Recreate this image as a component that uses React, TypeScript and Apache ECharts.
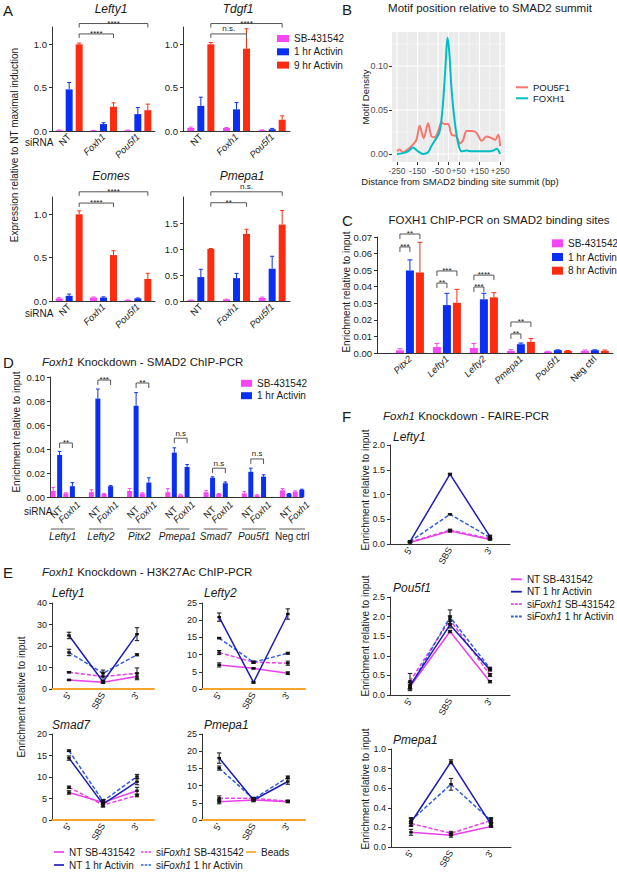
import React, { useEffect, useRef } from 'react';
import * as echarts from 'echarts';

const FONT = '"Liberation Sans", Arial, Helvetica, sans-serif';
const INK = '#1a1a1a';
const AXIS = '#333333';
const C_SB = '#f646f6';
const C_1H = '#0b2ff2';
const C_LATE = '#fb2c12';
const L_SB = '#ea3fea';
const L_NT_1H = '#1c1cb8';
const L_KD_1H = '#2f5fe0';
const L_BEADS = '#f5a52c';
const B_POU = '#F8766D';
const B_FOX = '#00BFC4';
const PLAIN = ['NT', 'Neg ctrl'];
const ICON_SOLID = 'path://M0,0H12V2H0Z';
const ICON_DASH = 'path://M0,0H3V2H0Z M4.5,0H7.5V2H4.5Z M9,0H12V2H9Z';

// ---------- Panel A ----------
const aGroups = ['NT', 'Foxh1', 'Pou5f1'];
const lefty1SB = [0.008, 0.005, 0.008];
const lefty1SBErr = [0.003, 0.002, 0.003];
const lefty1H1 = [0.48, 0.08, 0.195];
const lefty1H1Err = [0.08, 0.015, 0.075];
const lefty1H9 = [1.0, 0.28, 0.24];
const lefty1H9Err = [0.015, 0.045, 0.07];
const lefty1Sig = [[0, 2, 2, 2, 1.24], [0, 2, 1, 2, 1.12]];
const lefty1SigText = ['****', '****'];
const tdgf1SB = [0.035, 0.035, 0.01];
const tdgf1SBErr = [0.01, 0.005, 0.003];
const tdgf1H1 = [0.29, 0.25, 0.02];
const tdgf1H1Err = [0.1, 0.08, 0.01];
const tdgf1H9 = [1.0, 0.95, 0.13];
const tdgf1H9Err = [0.02, 0.23, 0.045];
const tdgf1Sig = [[0, 2, 2, 2, 1.24], [0, 2, 1, 2, 1.12]];
const tdgf1SigText = ['****', 'n.s.'];
const eomesSB = [0.03, 0.04, 0.01];
const eomesSBErr = [0.008, 0.006, 0.003];
const eomesH1 = [0.06, 0.04, 0.03];
const eomesH1Err = [0.02, 0.008, 0.005];
const eomesH9 = [1.0, 0.53, 0.255];
const eomesH9Err = [0.04, 0.05, 0.065];
const eomesSig = [[0, 2, 2, 2, 1.26], [0, 2, 1, 2, 1.13]];
const eomesSigText = ['****', '****'];
const pmepa1SB = [0.015, 0.03, 0.06];
const pmepa1SBErr = [0.004, 0.006, 0.015];
const pmepa1H1 = [0.46, 0.44, 0.62];
const pmepa1H1Err = [0.15, 0.09, 0.24];
const pmepa1H9 = [1.0, 1.29, 1.47];
const pmepa1H9Err = [0.01, 0.09, 0.27];
const pmepa1Sig = [[0, 2, 2, 2, 2.1], [0, 2, 1, 2, 1.89]];
const pmepa1SigText = ['n.s.', '**'];

// ---------- Panel B ----------
const pouX = [-250, -237, -221, -188, -156, -140, -120, -99, -83, -67, -50, -34, -18, -2, 15, 39, 55, 71, 88, 112, 136, 161, 185, 209, 226, 242, 250];
const pouY = [0.003, 0.005, 0.002, 0.007, 0.016, 0.032, 0.018, 0.035, 0.02, 0.019, 0.026, 0.036, 0.034, 0.034, 0.022, 0.02, 0.012, 0.016, 0.026, 0.026, 0.024, 0.015, 0.02, 0.018, 0.016, 0.022, 0.009];
const foxX = [-250, -221, -196, -172, -148, -123, -99, -83, -67, -45, -34, -23, -13, -5, 3, 15, 31, 47, 63, 88, 112, 153, 185, 218, 234, 250];
const foxY = [0.0, 0.001, 0.003, 0.0075, 0.003, 0.0, 0.002, 0.009, 0.015, 0.024, 0.039, 0.069, 0.106, 0.132, 0.118, 0.073, 0.035, 0.012, 0.003, 0.004, 0.003, 0.003, 0.003, 0.004, 0.006, 0.0];
const bXMajor = [-250, -150, -50, 0, 50, 150, 250];
const bXMinor = [-200, -100, -25, 25, 100, 200];
const bYMajor = [0, 0.05, 0.1];
const bYMinor = [0.025, 0.075, 0.125];

// ---------- Panel C ----------
const cGenes = ['Pitx2', 'Lefty1', 'Lefty2', 'Pmepa1', 'Pou5f1', 'Neg ctrl'];
const cSB = [0.0016, 0.0036, 0.003, 0.0012, 0.0008, 0.0013];
const cSBErr = [0.001, 0.0021, 0.0027, 0.0008, 0.0002, 0.0005];
const cH1 = [0.0498, 0.0289, 0.0324, 0.0053, 0.0017, 0.0017];
const cH1Err = [0.0064, 0.0071, 0.0036, 0.0007, 0.0002, 0.0002];
const cH8 = [0.0486, 0.0303, 0.0336, 0.0067, 0.0012, 0.0012];
const cH8Err = [0.0182, 0.0081, 0.0028, 0.002, 0.0003, 0.0006];
const cSig = [[0, 0, 0, 2, 0.0718], [0, 0, 0, 1, 0.064], [1, 0, 1, 2, 0.0495], [1, 0, 1, 1, 0.0422], [2, 0, 2, 2, 0.047], [2, 0, 2, 1, 0.0398], [3, 0, 3, 2, 0.0187], [3, 0, 3, 1, 0.0115]];
const cSigText = ['**', '***', '***', '**', '****', '***', '**', '**'];

// ---------- Panel D ----------
const dGenes = ['Lefty1', 'Lefty2', 'Pitx2', 'Pmepa1', 'Smad7', 'Pou5f1', 'Neg ctrl'];
const dConds = ['NT', 'Foxh1'];
const dNtSB = [0.005, 0.004, 0.005, 0.004, 0.004, 0.003, 0.0055];
const dNtSBErr = [0.003, 0.002, 0.002, 0.003, 0.0015, 0.0015, 0.0015];
const dNt1h = [0.035, 0.082, 0.076, 0.037, 0.016, 0.021, 0.0025];
const dNt1hErr = [0.003, 0.008, 0.011, 0.004, 0.0008, 0.003, 0.0004];
const dKdSB = [0.003, 0.0025, 0.003, 0.0015, 0.0025, 0.0015, 0.0045];
const dKdSBErr = [0.0005, 0.0004, 0.0005, 0.0008, 0.0004, 0.0004, 0.0006];
const dKd1h = [0.009, 0.009, 0.012, 0.025, 0.0115, 0.017, 0.006];
const dKd1hErr = [0.003, 0.0005, 0.004, 0.002, 0.001, 0.0015, 0.0005];
const dSig = [[0, 1, 1, 1, 0.045], [3, 1, 4, 1, 0.0975], [6, 1, 7, 1, 0.095], [9, 1, 10, 1, 0.049], [12, 1, 13, 1, 0.024], [15, 1, 16, 1, 0.0317]];
const dSigText = ['**', '***', '**', 'n.s', 'n.s', 'n.s'];

// ---------- Panel E ----------
const eCats = ["5'", 'SBS', "3'"];
const eLefty1NtSB = [4.2, 3.1, 5.8];
const eLefty1NtSBErr = [0.3, 0.5, 1.5];
const eLefty1KdSB = [7.8, 5.8, 7.3];
const eLefty1KdSBErr = [0.3, 2.0, 2.5];
const eLefty1Nt1h = [24.9, 3.4, 25.5];
const eLefty1Nt1hErr = [1.5, 0.5, 3.0];
const eLefty1Kd1h = [17.0, 7.3, 15.9];
const eLefty1Kd1hErr = [1.5, 1.5, 0.5];
const eLefty2NtSB = [7.0, 6.0, 4.6];
const eLefty2NtSBErr = [0.6, 0.2, 0.4];
const eLefty2KdSB = [10.6, 7.8, 7.5];
const eLefty2KdSBErr = [0.6, 0.3, 0.6];
const eLefty2Nt1h = [20.9, 1.9, 21.8];
const eLefty2Nt1hErr = [1.2, 0.2, 1.5];
const eLefty2Kd1h = [14.8, 7.8, 10.4];
const eLefty2Kd1hErr = [0.2, 0.3, 0.3];
const eSmad7NtSB = [6.4, 4.1, 6.8];
const eSmad7NtSBErr = [0.4, 0.5, 0.8];
const eSmad7KdSB = [7.6, 3.5, 5.7];
const eSmad7KdSBErr = [0.3, 0.5, 0.3];
const eSmad7Nt1h = [14.4, 3.7, 8.9];
const eSmad7Nt1hErr = [0.5, 0.6, 0.7];
const eSmad7Kd1h = [16.1, 4.4, 10.1];
const eSmad7Kd1hErr = [0.2, 0.4, 0.5];
const ePmepa1NtSB = [5.3, 5.8, 5.3];
const ePmepa1NtSBErr = [0.6, 0.3, 0.3];
const ePmepa1KdSB = [6.3, 6.3, 5.5];
const ePmepa1KdSBErr = [0.7, 0.3, 0.3];
const ePmepa1Nt1h = [18.0, 5.8, 11.2];
const ePmepa1Nt1hErr = [1.5, 0.5, 0.8];
const ePmepa1Kd1h = [15.1, 6.1, 12.4];
const ePmepa1Kd1hErr = [0.6, 0.4, 0.4];
const eBeads = [0, 0, 0];

// ---------- Panel F ----------
const fLefty1NtSB = [0.03, 0.26, 0.09];
const fLefty1NtSBErr = [0.01, 0.02, 0.01];
const fLefty1KdSB = [0.04, 0.28, 0.11];
const fLefty1KdSBErr = [0.01, 0.02, 0.01];
const fLefty1Nt1h = [0.05, 1.41, 0.15];
const fLefty1Nt1hErr = [0.02, 0.02, 0.03];
const fLefty1Kd1h = [0.05, 0.6, 0.13];
const fLefty1Kd1hErr = [0.01, 0.01, 0.03];
const fPou5f1NtSB = [0.21, 1.62, 0.34];
const fPou5f1NtSBErr = [0.1, 0.03, 0.03];
const fPou5f1KdSB = [0.35, 1.92, 0.51];
const fPou5f1KdSBErr = [0.2, 0.1, 0.04];
const fPou5f1Nt1h = [0.24, 1.79, 0.64];
const fPou5f1Nt1hErr = [0.08, 0.08, 0.03];
const fPou5f1Kd1h = [0.21, 1.99, 0.68];
const fPou5f1Kd1hErr = [0.05, 0.18, 0.03];
const fPmepa1NtSB = [0.15, 0.12, 0.21];
const fPmepa1NtSBErr = [0.03, 0.02, 0.01];
const fPmepa1KdSB = [0.24, 0.14, 0.27];
const fPmepa1KdSBErr = [0.02, 0.02, 0.02];
const fPmepa1Nt1h = [0.25, 0.87, 0.23];
const fPmepa1Nt1hErr = [0.04, 0.02, 0.02];
const fPmepa1Kd1h = [0.27, 0.64, 0.27];
const fPmepa1Kd1hErr = [0.03, 0.06, 0.03];

const N_NT_SB = 'NT SB-431542';
const N_NT_1H = 'NT 1 hr Activin';
const N_KD_SB = 'siFoxh1 SB-431542';
const N_KD_1H = 'siFoxh1 1 hr Activin';

function ticksTo(max: number, step: number) {
  const out: number[] = [];
  for (let i = 0; i <= Math.round(max / step); i++) out.push(+(i * step).toFixed(4));
  return out;
}

function buildOption(): any {
  const grid: any[] = [];
  const xAxis: any[] = [];
  const yAxis: any[] = [];
  const series: any[] = [];
  const legend: any[] = [];
  const graphic: any[] = [];

  const addGrid = (rect: any, x: any, y: any, g: any = {}) => {
    grid.push({ ...rect, ...g });
    const i = grid.length - 1;
    xAxis.push({ gridIndex: i, ...x });
    yAxis.push({ gridIndex: i, ...y });
    return i;
  };

  const italicName = (n: string) => (PLAIN.includes(n) ? n : `{i|${n}}`);

  const yValue = (max: number, ticks: number[], fmt: (v: number) => string, size = 9.5) => ({
    type: 'value', min: 0, max,
    axisLine: { show: true, onZero: false, lineStyle: { color: AXIS, width: 1 } },
    axisTick: { show: true, length: 3, customValues: ticks, lineStyle: { color: AXIS } },
    axisLabel: { customValues: ticks, formatter: fmt, fontSize: size, color: INK, fontFamily: FONT, margin: 5, showMinLabel: true, showMaxLabel: true },
    splitLine: { show: false },
  });

  const xBars = (min: number, max: number, pos: number[], names: string[], extra: any = {}, size = 9.5) => ({
    type: 'value', min, max,
    axisLine: { show: true, onZero: false, lineStyle: { color: AXIS } },
    axisTick: { show: false },
    splitLine: { show: false },
    axisLabel: {
      customValues: pos, rotate: 45, fontSize: size, color: INK, fontFamily: FONT, margin: 4,
      showMinLabel: true, showMaxLabel: true, hideOverlap: false,
      formatter: (v: number) => {
        const k = pos.findIndex((p) => Math.abs(p - v) < 1e-6);
        return k >= 0 ? italicName(names[k]) : '';
      },
      rich: { i: { fontStyle: 'italic', fontSize: size, color: INK, fontFamily: FONT } },
      ...extra,
    },
  });

  const errUp = (gi: number, pos: number[], vals: number[], errs: number[], off: number, color: string, cap: number) => {
    series.push({
      type: 'custom', xAxisIndex: gi, yAxisIndex: gi, silent: true, z: 3, clip: false,
      data: pos.map((x, i) => [x, vals[i], errs[i]]),
      renderItem: (_p: any, api: any) => {
        const b = api.coord([api.value(0), api.value(1)]);
        const t = api.coord([api.value(0), api.value(1) + api.value(2)]);
        const x = b[0] + off;
        const st = { stroke: color, lineWidth: 1 };
        return {
          type: 'group', children: [
            { type: 'line', shape: { x1: x, y1: b[1], x2: x, y2: t[1] }, style: st },
            { type: 'line', shape: { x1: x - cap, y1: t[1], x2: x + cap, y2: t[1] }, style: st },
          ],
        };
      },
    });
  };

  const brackets = (gi: number, rows: number[][], texts: string[], off: (b: number) => number, drop: number) => {
    series.push({
      type: 'custom', xAxisIndex: gi, yAxisIndex: gi, silent: true, z: 4, clip: false,
      encode: { x: 0, y: 4 },
      data: rows,
      renderItem: (p: any, api: any) => {
        const a = api.coord([api.value(0), api.value(4)]);
        const c = api.coord([api.value(2), api.value(4)]);
        const x1 = a[0] + off(api.value(1));
        const x2 = c[0] + off(api.value(3));
        const y = a[1];
        const t = texts[p.dataIndex];
        const star = t.indexOf('*') >= 0;
        return {
          type: 'group', children: [
            { type: 'polyline', shape: { points: [[x1, y + drop], [x1, y], [x2, y], [x2, y + drop]] }, style: { stroke: '#555', lineWidth: 1, fill: 'none' } },
            {
              type: 'text', x: (x1 + x2) / 2, y: star ? y - 0.5 : y - 1,
              style: { text: t, fontSize: 8, fontFamily: FONT, fill: INK, align: 'center', verticalAlign: star ? 'middle' : 'bottom' },
            },
          ],
        };
      },
    });
  };

  const addBars = (gi: number, pos: number[], sets: any[], w: number, gap: number, cap: number) => {
    const step = w * (1 + gap);
    const n = sets.length;
    sets.forEach((s, k) => {
      series.push({
        type: 'bar', name: s.name, xAxisIndex: gi, yAxisIndex: gi, silent: true,
        data: pos.map((x, i) => [x, s.vals[i]]),
        barWidth: w, barGap: `${Math.round(gap * 100)}%`,
        itemStyle: { color: s.color },
      });
      errUp(gi, pos, s.vals, s.errs, (k - (n - 1) / 2) * step, s.color, cap);
    });
    return (b: number) => (b - (n - 1) / 2) * step;
  };

  // ---------------- Panel A ----------------
  const aPos = aGroups.map((_, i) => i);
  const aPanel = (rect: any, yMax: number, ticks: number[], sb: number[], sbE: number[], h1: number[], h1E: number[], h9: number[], h9E: number[], sig: number[][], sigText: string[]) => {
    const gi = addGrid(rect, xBars(-0.5, 2.5, aPos, aGroups), yValue(yMax, ticks, (v) => v.toFixed(1)));
    const off = addBars(gi, aPos, [
      { name: 'SB-431542', color: C_SB, vals: sb, errs: sbE },
      { name: '1 hr Activin', color: C_1H, vals: h1, errs: h1E },
      { name: '9 hr Activin', color: C_LATE, vals: h9, errs: h9E },
    ], 7, 0.43, 2);
    brackets(gi, sig, sigText, off, 4);
  };
  aPanel({ left: 52, top: 27, width: 103, height: 104 }, 1.2, [0, 0.5, 1], lefty1SB, lefty1SBErr, lefty1H1, lefty1H1Err, lefty1H9, lefty1H9Err, lefty1Sig, lefty1SigText);
  aPanel({ left: 183, top: 27, width: 107, height: 104 }, 1.2, [0, 0.5, 1], tdgf1SB, tdgf1SBErr, tdgf1H1, tdgf1H1Err, tdgf1H9, tdgf1H9Err, tdgf1Sig, tdgf1SigText);
  aPanel({ left: 52, top: 197, width: 103, height: 104 }, 1.2, [0, 0.5, 1], eomesSB, eomesSBErr, eomesH1, eomesH1Err, eomesH9, eomesH9Err, eomesSig, eomesSigText);
  aPanel({ left: 183, top: 197, width: 107, height: 104 }, 2.0, [0, 0.5, 1, 1.5], pmepa1SB, pmepa1SBErr, pmepa1H1, pmepa1H1Err, pmepa1H9, pmepa1H9Err, pmepa1Sig, pmepa1SigText);

  legend.push({
    left: 277, top: 32.5, orient: 'vertical', icon: 'rect', itemWidth: 12, itemHeight: 7, itemGap: 1.3, padding: 0, selectedMode: false,
    data: ['SB-431542', '1 hr Activin', '9 hr Activin'],
    textStyle: { fontSize: 10, lineHeight: 12, color: INK, fontFamily: FONT },
  });

  // ---------------- Panel B ----------------
  {
    const gi = addGrid(
      { left: 392, top: 32, width: 113, height: 130 },
      {
        type: 'value', min: -274, max: 274,
        axisLine: { show: false, onZero: false },
        axisTick: { show: true, length: 3, customValues: bXMajor, lineStyle: { color: '#333' } },
        axisLabel: { customValues: bXMajor, formatter: (v: number) => (v > 0 ? `+${v}` : `${v}`), fontSize: 8.5, color: '#4D4D4D', fontFamily: FONT, margin: 4, showMinLabel: true, showMaxLabel: true },
        splitLine: { show: false },
      },
      {
        type: 'value', min: -0.0091, max: 0.1386,
        axisLine: { show: false, onZero: false },
        axisTick: { show: true, length: 3, customValues: bYMajor, lineStyle: { color: '#333' } },
        axisLabel: { customValues: bYMajor, formatter: (v: number) => v.toFixed(2), fontSize: 9, color: '#4D4D4D', fontFamily: FONT, margin: 4, showMinLabel: true, showMaxLabel: true },
        splitLine: { show: false },
      },
      { show: true, backgroundColor: '#EBEBEB', borderWidth: 0 },
    );
    const vLines = [...bXMajor.map((x) => [x, 0, 1.1]), ...bXMinor.map((x) => [x, 0, 0.5])];
    const hLines = [...bYMajor.map((y) => [0, y, 1.1]), ...bYMinor.map((y) => [0, y, 0.5])];
    series.push({
      type: 'custom', xAxisIndex: gi, yAxisIndex: gi, silent: true, z: 1,
      data: vLines,
      renderItem: (p: any, api: any) => {
        const c = api.coord([api.value(0), 0]);
        const cs = p.coordSys;
        return { type: 'line', shape: { x1: c[0], y1: cs.y, x2: c[0], y2: cs.y + cs.height }, style: { stroke: '#ffffff', lineWidth: api.value(2) } };
      },
    });
    series.push({
      type: 'custom', xAxisIndex: gi, yAxisIndex: gi, silent: true, z: 1,
      data: hLines,
      renderItem: (p: any, api: any) => {
        const c = api.coord([0, api.value(1)]);
        const cs = p.coordSys;
        return { type: 'line', shape: { x1: cs.x, y1: c[1], x2: cs.x + cs.width, y2: c[1] }, style: { stroke: '#ffffff', lineWidth: api.value(2) } };
      },
    });
    series.push({
      type: 'line', name: 'POU5F1', xAxisIndex: gi, yAxisIndex: gi, silent: true, z: 3, smooth: 0.3, symbol: 'none',
      data: pouX.map((x, i) => [x, pouY[i]]),
      lineStyle: { color: B_POU, width: 2 }, itemStyle: { color: B_POU },
    });
    series.push({
      type: 'line', name: 'FOXH1', xAxisIndex: gi, yAxisIndex: gi, silent: true, z: 3, smooth: 0.3, symbol: 'none',
      data: foxX.map((x, i) => [x, foxY[i]]),
      lineStyle: { color: B_FOX, width: 2 }, itemStyle: { color: B_FOX },
    });
    legend.push({
      left: 516, top: 81.8, orient: 'vertical', itemWidth: 12, itemHeight: 2.2, itemGap: 0, padding: 0, selectedMode: false,
      itemStyle: { borderWidth: 0 },
      data: [{ name: 'POU5F1', icon: ICON_SOLID }, { name: 'FOXH1', icon: ICON_SOLID }],
      textStyle: { fontSize: 9.5, lineHeight: 11, color: INK, fontFamily: FONT },
    });
  }

  // ---------------- Panel C ----------------
  {
    const pos = cGenes.map((_, i) => i);
    const gi = addGrid({ left: 377, top: 237, width: 236, height: 116 }, xBars(-0.89, 5.49, pos, cGenes), yValue(0.07, ticksTo(0.07, 0.01), (v) => v.toFixed(2)));
    const off = addBars(gi, pos, [
      { name: 'SB-431542', color: C_SB, vals: cSB, errs: cSBErr },
      { name: '1 hr Activin', color: C_1H, vals: cH1, errs: cH1Err },
      { name: '8 hr Activin', color: C_LATE, vals: cH8, errs: cH8Err },
    ], 8, 0.25, 2.5);
    brackets(gi, cSig, cSigText, off, 5);
    legend.push({
      left: 552, top: 237.3, orient: 'vertical', icon: 'rect', itemWidth: 11, itemHeight: 8, itemGap: 1.7, padding: 0, selectedMode: false,
      data: ['SB-431542', '1 hr Activin', '8 hr Activin'],
      textStyle: { fontSize: 10, lineHeight: 12, color: INK, fontFamily: FONT },
    });
  }

  // ---------------- Panel D ----------------
  {
    const pos: number[] = [];
    const names: string[] = [];
    dGenes.forEach((_, g) => dConds.forEach((c, k) => { pos.push(3 * g + k); names.push(c); }));
    const sbVals: number[] = [], sbErrs: number[] = [], h1Vals: number[] = [], h1Errs: number[] = [];
    dGenes.forEach((_, g) => {
      sbVals.push(dNtSB[g], dKdSB[g]);
      sbErrs.push(dNtSBErr[g], dKdSBErr[g]);
      h1Vals.push(dNt1h[g], dKd1h[g]);
      h1Errs.push(dNt1hErr[g], dKd1hErr[g]);
    });
    const gi = addGrid(
      { left: 50, top: 377, width: 253, height: 120 },
      xBars(-0.5, 19.35, pos, names, { show: false }),
      yValue(0.1, ticksTo(0.1, 0.02), (v) => v.toFixed(2)),
    );
    const off = addBars(gi, pos, [
      { name: 'SB-431542', color: C_SB, vals: sbVals, errs: sbErrs },
      { name: '1 hr Activin', color: C_1H, vals: h1Vals, errs: h1Errs },
    ], 5, 0.3, 1.8);
    brackets(gi, dSig, dSigText, off, 5);
    // siRNA condition labels (rotated), drawn at each bar-pair position
    series.push({
      type: 'custom', xAxisIndex: gi, yAxisIndex: gi, silent: true, z: 4, clip: false,
      data: pos.map((x) => [x, 0]),
      renderItem: (p: any, api: any) => {
        const c = api.coord([api.value(0), 0]);
        const name = names[p.dataIndex];
        return {
          type: 'text', x: c[0], y: c[1] + 15, rotation: Math.PI / 4,
          style: { text: name, fontSize: 9.5, fontFamily: FONT, fontStyle: PLAIN.includes(name) ? 'normal' : 'italic', fill: INK, align: 'center', verticalAlign: 'middle' },
        };
      },
    });
    // gene group labels with overline
    series.push({
      type: 'custom', xAxisIndex: gi, yAxisIndex: gi, silent: true, z: 4, clip: false,
      data: dGenes.map((_, g) => [3 * g + 0.5, 0]),
      renderItem: (p: any, api: any) => {
        const c = api.coord([api.value(0), 0]);
        const cs = p.coordSys;
        const yb = cs.y + cs.height;
        const name = dGenes[p.dataIndex];
        const half = PLAIN.includes(name) ? 13 : 12;
        return {
          type: 'group', children: [
            { type: 'line', shape: { x1: c[0] - half, y1: yb + 32, x2: c[0] + half, y2: yb + 32 }, style: { stroke: '#333', lineWidth: 0.8 } },
            { type: 'text', x: c[0], y: yb + 39, style: { text: name, fontSize: 10, fontFamily: FONT, fontStyle: PLAIN.includes(name) ? 'normal' : 'italic', fill: INK, align: 'center', verticalAlign: 'middle' } },
          ],
        };
      },
    });
    legend.push({
      left: 241, top: 377.3, orient: 'vertical', icon: 'rect', itemWidth: 11, itemHeight: 7, itemGap: 0.4, padding: 0, selectedMode: false,
      data: ['SB-431542', '1 hr Activin'],
      textStyle: { fontSize: 10, lineHeight: 12, color: INK, fontFamily: FONT },
    });
  }

  // ---------------- Line panels (E, F) ----------------
  const errBoth = (gi: number, vals: number[], errs: number[]) => {
    series.push({
      type: 'custom', xAxisIndex: gi, yAxisIndex: gi, silent: true, z: 5, clip: false,
      data: vals.map((v, i) => [i, v, errs[i]]),
      renderItem: (_p: any, api: any) => {
        const c = api.coord([api.value(0), api.value(1)]);
        const lo = api.coord([api.value(0), api.value(1) - api.value(2)]);
        const hi = api.coord([api.value(0), api.value(1) + api.value(2)]);
        const x = c[0];
        const st = { stroke: '#111', lineWidth: 1 };
        return {
          type: 'group', children: [
            { type: 'line', shape: { x1: x, y1: lo[1], x2: x, y2: hi[1] }, style: st },
            { type: 'line', shape: { x1: x - 2.2, y1: lo[1], x2: x + 2.2, y2: lo[1] }, style: st },
            { type: 'line', shape: { x1: x - 2.2, y1: hi[1], x2: x + 2.2, y2: hi[1] }, style: st },
            { type: 'rect', shape: { x: x - 1.8, y: c[1] - 1.2, width: 3.6, height: 2.4 }, style: { fill: '#111' } },
          ],
        };
      },
    });
  };

  const linePanel = (rect: any, yMax: number, step: number, fmt: (v: number) => string, lines: any[], beads: number[] | null) => {
    const ticks = ticksTo(yMax, step);
    const gi = addGrid(
      rect,
      {
        type: 'category', data: eCats, boundaryGap: true,
        axisLine: { show: true, onZero: false, lineStyle: { color: beads ? L_BEADS : AXIS, width: beads ? 2 : 1 } },
        axisTick: { show: false },
        splitLine: { show: false },
        axisLabel: { rotate: 60, fontSize: 9, color: INK, fontFamily: FONT, margin: 4, interval: 0 },
      },
      yValue(yMax, ticks, fmt, 9),
    );
    lines.forEach((l) => {
      series.push({
        type: 'line', name: l.name, xAxisIndex: gi, yAxisIndex: gi, silent: true, z: 2, symbol: 'none',
        data: l.vals,
        lineStyle: { color: l.color, width: 1.5, type: l.dash ? [4, 2] : 'solid' },
        itemStyle: { color: l.color },
      });
    });
    if (beads) {
      series.push({
        type: 'line', name: 'Beads', xAxisIndex: gi, yAxisIndex: gi, silent: true, z: 2, symbol: 'none',
        data: beads, lineStyle: { color: L_BEADS, width: 2 }, itemStyle: { color: L_BEADS },
      });
    }
    lines.forEach((l) => errBoth(gi, l.vals, l.errs));
  };

  const mk = (ntSB: number[], ntSBE: number[], kdSB: number[], kdSBE: number[], nt1: number[], nt1E: number[], kd1: number[], kd1E: number[]) => [
    { name: N_NT_SB, color: L_SB, dash: false, vals: ntSB, errs: ntSBE },
    { name: N_KD_SB, color: L_SB, dash: true, vals: kdSB, errs: kdSBE },
    { name: N_KD_1H, color: L_KD_1H, dash: true, vals: kd1, errs: kd1E },
    { name: N_NT_1H, color: L_NT_1H, dash: false, vals: nt1, errs: nt1E },
  ];
  const intFmt = (v: number) => `${v}`;
  const oneFmt = (v: number) => v.toFixed(1);

  linePanel({ left: 52, top: 603, width: 102, height: 86 }, 40, 10, intFmt,
    mk(eLefty1NtSB, eLefty1NtSBErr, eLefty1KdSB, eLefty1KdSBErr, eLefty1Nt1h, eLefty1Nt1hErr, eLefty1Kd1h, eLefty1Kd1hErr), eBeads);
  linePanel({ left: 202, top: 603, width: 103, height: 86 }, 25, 5, intFmt,
    mk(eLefty2NtSB, eLefty2NtSBErr, eLefty2KdSB, eLefty2KdSBErr, eLefty2Nt1h, eLefty2Nt1hErr, eLefty2Kd1h, eLefty2Kd1hErr), eBeads);
  linePanel({ left: 52, top: 734, width: 102, height: 86 }, 20, 5, intFmt,
    mk(eSmad7NtSB, eSmad7NtSBErr, eSmad7KdSB, eSmad7KdSBErr, eSmad7Nt1h, eSmad7Nt1hErr, eSmad7Kd1h, eSmad7Kd1hErr), eBeads);
  linePanel({ left: 202, top: 734, width: 103, height: 86 }, 25, 5, intFmt,
    mk(ePmepa1NtSB, ePmepa1NtSBErr, ePmepa1KdSB, ePmepa1KdSBErr, ePmepa1Nt1h, ePmepa1Nt1hErr, ePmepa1Kd1h, ePmepa1Kd1hErr), eBeads);

  linePanel({ left: 390, top: 445, width: 120, height: 99 }, 2.0, 0.5, oneFmt,
    mk(fLefty1NtSB, fLefty1NtSBErr, fLefty1KdSB, fLefty1KdSBErr, fLefty1Nt1h, fLefty1Nt1hErr, fLefty1Kd1h, fLefty1Kd1hErr), null);
  linePanel({ left: 390, top: 597, width: 120, height: 98 }, 2.5, 0.5, oneFmt,
    mk(fPou5f1NtSB, fPou5f1NtSBErr, fPou5f1KdSB, fPou5f1KdSBErr, fPou5f1Nt1h, fPou5f1Nt1hErr, fPou5f1Kd1h, fPou5f1Kd1hErr), null);
  linePanel({ left: 391, top: 749, width: 120, height: 98 }, 1.0, 0.2, oneFmt,
    mk(fPmepa1NtSB, fPmepa1NtSBErr, fPmepa1KdSB, fPmepa1KdSBErr, fPmepa1Nt1h, fPmepa1Nt1hErr, fPmepa1Kd1h, fPmepa1Kd1hErr), null);

  const richLegendText = {
    fontSize: 10, lineHeight: 12, color: INK, fontFamily: FONT,
    rich: { i: { fontStyle: 'italic', fontSize: 10, color: INK, fontFamily: FONT } },
  };
  const siFmt = (name: string) => name.replace('siFoxh1', 'si{i|Foxh1}');
  const lineLeg = (left: number, top: number, gap: number, width: number, items: any[]) => legend.push({
    left, top, orient: 'vertical', itemWidth: width, itemHeight: 1.8, itemGap: gap, padding: 0, selectedMode: false,
    itemStyle: { borderWidth: 0 },
    data: items, formatter: siFmt, textStyle: richLegendText,
  });
  lineLeg(54, 846, 1, 10, [{ name: N_NT_SB, icon: ICON_SOLID }, { name: N_NT_1H, icon: ICON_SOLID }]);
  lineLeg(141, 846, 1, 10, [{ name: N_KD_SB, icon: ICON_DASH }, { name: N_KD_1H, icon: ICON_DASH }]);
  lineLeg(246, 846, 1, 10, [{ name: 'Beads', icon: ICON_SOLID }]);
  lineLeg(511, 573.3, 0.4, 11, [
    { name: N_NT_SB, icon: ICON_SOLID }, { name: N_NT_1H, icon: ICON_SOLID },
    { name: N_KD_SB, icon: ICON_DASH }, { name: N_KD_1H, icon: ICON_DASH },
  ]);

  // ---------------- Texts ----------------
  const txt = (x: number, y: number, text: string, o: any = {}) => {
    const size = o.size ?? 10;
    graphic.push({
      type: 'text', x, y, rotation: o.rot ?? 0, silent: true,
      style: {
        text, fontSize: size, fontFamily: FONT, fill: o.fill ?? INK,
        fontStyle: o.italic ? 'italic' : 'normal',
        align: o.align ?? 'left', verticalAlign: 'middle',
        rich: { i: { fontStyle: 'italic', fontSize: size, fontFamily: FONT, fill: o.fill ?? INK } },
      },
    });
  };
  const V = Math.PI / 2;
  txt(3, 10, 'A', { size: 15 });
  txt(342, 9, 'B', { size: 15 });
  txt(342, 220, 'C', { size: 15 });
  txt(3, 362, 'D', { size: 15 });
  txt(3, 572, 'E', { size: 15 });
  txt(342, 416, 'F', { size: 15 });
  // A
  txt(111, 9, 'Lefty1', { size: 12, italic: true, align: 'center' });
  txt(238, 9, 'Tdgf1', { size: 12, italic: true, align: 'center' });
  txt(111, 176, 'Eomes', { size: 12, italic: true, align: 'center' });
  txt(242, 176, 'Pmepa1', { size: 12, italic: true, align: 'center' });
  txt(14, 145, 'Expression relative to NT maximal induction', { size: 10, rot: V, align: 'center' });
  txt(25, 142, 'siRNA', { size: 10 });
  txt(25, 313, 'siRNA', { size: 10 });
  // B
  txt(490, 8, 'Motif position relative to SMAD2 summit', { size: 11.5, align: 'center' });
  txt(460, 181, 'Distance from SMAD2 binding site summit (bp)', { size: 9.5, align: 'center' });
  txt(365, 97, 'Motif Density', { size: 9.5, rot: V, align: 'center' });
  // C
  txt(499, 220, 'FOXH1 ChIP-PCR on SMAD2 binding sites', { size: 11.5, align: 'center' });
  txt(346, 292, 'Enrichment relative to input', { size: 10, rot: V, align: 'center' });
  // D
  txt(42, 362, '{i|Foxh1} Knockdown - SMAD2 ChIP-PCR', { size: 11.5 });
  txt(16, 432, 'Enrichment relative to input', { size: 10, rot: V, align: 'center' });
  txt(24, 511, 'siRNA', { size: 10 });
  // E
  txt(42, 572, '{i|Foxh1} Knockdown - H3K27Ac ChIP-PCR', { size: 11.5 });
  txt(21, 697, 'Enrichment relative to input', { size: 10, rot: V, align: 'center' });
  txt(52, 593, 'Lefty1', { size: 12, italic: true });
  txt(204, 593, 'Lefty2', { size: 12, italic: true });
  txt(52, 725, 'Smad7', { size: 12, italic: true });
  txt(204, 725, 'Pmepa1', { size: 12, italic: true });
  // F
  txt(383, 416, '{i|Foxh1} Knockdown - FAIRE-PCR', { size: 11.5 });
  txt(393, 437, 'Lefty1', { size: 12, italic: true });
  txt(393, 588, 'Pou5f1', { size: 12, italic: true });
  txt(393, 740, 'Pmepa1', { size: 12, italic: true });
  txt(365, 490, 'Enrichment relative to input', { size: 10, rot: V, align: 'center' });
  txt(365, 636, 'Enrichment relative to input', { size: 10, rot: V, align: 'center' });
  txt(365, 789, 'Enrichment relative to input', { size: 10, rot: V, align: 'center' });

  return {
    animation: false,
    backgroundColor: '#ffffff',
    textStyle: { fontFamily: FONT },
    grid, xAxis, yAxis, series, legend, graphic,
  };
}

export default function App() {
  const ref = useRef<HTMLDivElement>(null);
  useEffect(() => {
    if (!ref.current) return;
    const chart = echarts.init(ref.current, null, { renderer: 'svg' });
    chart.setOption(buildOption());
    return () => chart.dispose();
  }, []);
  return <div ref={ref} style={{ position: 'absolute', left: 0, top: 0, width: 617, height: 872, background: '#fff' }} />;
}
